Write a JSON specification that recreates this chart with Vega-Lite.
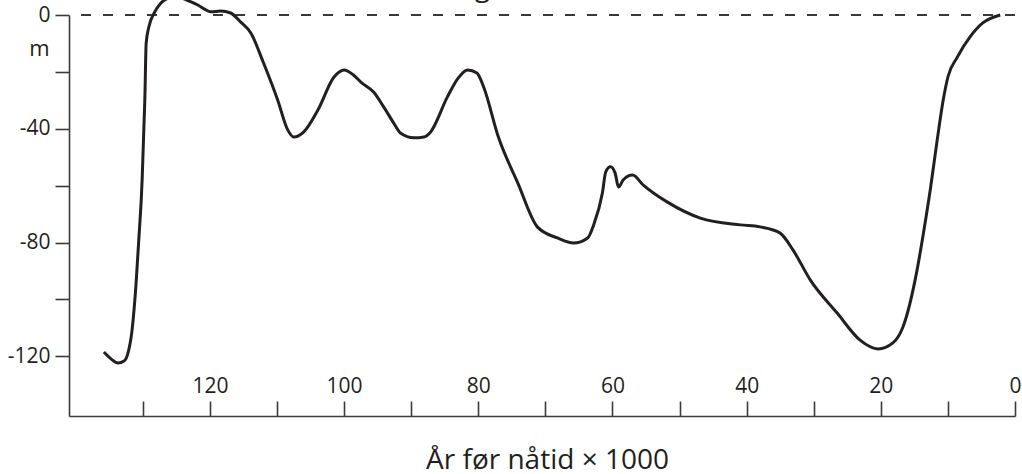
{
  "$schema": "https://vega.github.io/schema/vega-lite/v6.json",
  "width": 946,
  "height": 401,
  "autosize": "none",
  "padding": {"left": 69, "top": 15, "right": 7, "bottom": 58},
  "background": "white",
  "title": {
    "text": "Havnivåendring",
    "anchor": "end",
    "frame": "group",
    "orient": "top",
    "baseline": "alphabetic",
    "offset": 4,
    "dx": -525,
    "dy": 38,
    "font": "Open Sans",
    "fontSize": 28,
    "fontWeight": "normal",
    "color": "#231f20"
  },
  "config": {
    "view": {"stroke": null},
    "axis": {
      "grid": false,
      "domainColor": "#3a3a3a",
      "domainWidth": 1.6,
      "tickColor": "#3a3a3a",
      "tickWidth": 1.6,
      "labelColor": "#231f20",
      "labelFont": "Open Sans",
      "labelFontSize": 21,
      "titleFont": "Open Sans",
      "titleColor": "#231f20",
      "titleFontWeight": "normal",
      "labelOverlap": false,
      "labelBound": false,
      "labelFlush": false
    }
  },
  "data": {
    "values": [
      {"kyr": 135.8, "m": -118.5},
      {"kyr": 134.7, "m": -121.0},
      {"kyr": 133.7, "m": -122.4},
      {"kyr": 132.8, "m": -121.7},
      {"kyr": 132.2, "m": -118.8},
      {"kyr": 131.6, "m": -110.8},
      {"kyr": 131.0, "m": -94.3},
      {"kyr": 130.6, "m": -79.1},
      {"kyr": 130.1, "m": -58.0},
      {"kyr": 129.95, "m": -47.5},
      {"kyr": 129.8, "m": -36.9},
      {"kyr": 129.7, "m": -29.9},
      {"kyr": 129.5, "m": -10.0},
      {"kyr": 129.1, "m": -4.2},
      {"kyr": 128.3, "m": 0.7},
      {"kyr": 127.3, "m": 4.2},
      {"kyr": 126.2, "m": 6.0},
      {"kyr": 125.2, "m": 6.7},
      {"kyr": 124.2, "m": 6.0},
      {"kyr": 123.1, "m": 4.9},
      {"kyr": 121.8, "m": 3.5},
      {"kyr": 120.6, "m": 1.8},
      {"kyr": 119.8, "m": 1.1},
      {"kyr": 118.4, "m": 1.4},
      {"kyr": 116.9, "m": 0.7},
      {"kyr": 115.4, "m": -2.5},
      {"kyr": 113.9, "m": -6.3},
      {"kyr": 112.0, "m": -16.9},
      {"kyr": 109.9, "m": -29.9},
      {"kyr": 108.4, "m": -40.4},
      {"kyr": 107.5, "m": -42.9},
      {"kyr": 106.0, "m": -41.1},
      {"kyr": 103.9, "m": -33.4},
      {"kyr": 101.5, "m": -21.8},
      {"kyr": 100.0, "m": -19.3},
      {"kyr": 98.6, "m": -21.1},
      {"kyr": 97.5, "m": -23.6},
      {"kyr": 95.6, "m": -27.1},
      {"kyr": 94.1, "m": -32.3},
      {"kyr": 92.6, "m": -38.0},
      {"kyr": 91.6, "m": -41.5},
      {"kyr": 89.6, "m": -43.2},
      {"kyr": 88.1, "m": -42.9},
      {"kyr": 87.1, "m": -41.1},
      {"kyr": 84.6, "m": -28.8},
      {"kyr": 83.0, "m": -22.2},
      {"kyr": 81.6, "m": -19.3},
      {"kyr": 80.2, "m": -20.4},
      {"kyr": 79.2, "m": -25.3},
      {"kyr": 77.0, "m": -42.9},
      {"kyr": 74.1, "m": -59.1},
      {"kyr": 71.2, "m": -74.5},
      {"kyr": 68.2, "m": -78.4},
      {"kyr": 65.8, "m": -80.2},
      {"kyr": 63.7, "m": -78.4},
      {"kyr": 62.8, "m": -73.8},
      {"kyr": 61.5, "m": -62.6},
      {"kyr": 61.0, "m": -55.2},
      {"kyr": 60.3, "m": -53.4},
      {"kyr": 59.6, "m": -55.6},
      {"kyr": 59.1, "m": -60.5},
      {"kyr": 58.4, "m": -58.0},
      {"kyr": 57.0, "m": -56.3},
      {"kyr": 55.4, "m": -59.8},
      {"kyr": 51.8, "m": -65.8},
      {"kyr": 46.9, "m": -71.4},
      {"kyr": 40.9, "m": -73.8},
      {"kyr": 38.0, "m": -74.5},
      {"kyr": 35.0, "m": -76.7},
      {"kyr": 33.1, "m": -82.6},
      {"kyr": 30.5, "m": -93.2},
      {"kyr": 26.5, "m": -104.8},
      {"kyr": 23.1, "m": -114.3},
      {"kyr": 20.4, "m": -117.4},
      {"kyr": 18.2, "m": -115.3},
      {"kyr": 16.7, "m": -109.7},
      {"kyr": 14.6, "m": -89.7},
      {"kyr": 13.6, "m": -76.0},
      {"kyr": 12.6, "m": -61.0},
      {"kyr": 11.6, "m": -44.0},
      {"kyr": 10.7, "m": -29.9},
      {"kyr": 10.0, "m": -21.8},
      {"kyr": 8.6, "m": -14.8},
      {"kyr": 6.7, "m": -7.7},
      {"kyr": 4.8, "m": -2.8},
      {"kyr": 2.2, "m": 0}
    ]
  },
  "layer": [
    {
      "mark": {"type": "rule", "color": "#3a3a3a", "strokeWidth": 2, "strokeDash": [10, 12]},
      "encoding": {"y": {"datum": 0, "type": "quantitative", "scale": {"domain": [-141, 0], "nice": false, "zero": false}}}
    },
    {
      "mark": {"type": "line", "color": "#231f20", "strokeWidth": 3, "interpolate": "monotone"},
      "encoding": {
        "x": {
          "field": "kyr",
          "type": "quantitative",
          "scale": {"domain": [141, 0], "nice": false, "zero": false},
          "axis": {
            "orient": "bottom",
            "values": [0, 10, 20, 30, 40, 50, 60, 70, 80, 90, 100, 110, 120, 130],
            "labelExpr": "datum.value % 20 === 0 ? '' + datum.value : ''",
            "tickSize": -15,
            "labelPadding": -9,
            "labelBaseline": "alphabetic",
            "title": "År før nåtid × 1000",
            "titleFontSize": 28,
            "titleX": 478,
            "titleY": 52,
            "titleAlign": "center",
            "titleBaseline": "alphabetic"
          }
        },
        "y": {
          "field": "m",
          "type": "quantitative",
          "scale": {"domain": [-141, 0], "nice": false, "zero": false},
          "axis": {
            "values": [0, -20, -40, -60, -80, -100, -120],
            "labelExpr": "datum.value % 40 === 0 ? '' + datum.value : ''",
            "tickSize": 14,
            "labelPadding": 5,
            "title": "m",
            "titleAngle": 0,
            "titleFontSize": 22,
            "titleX": -30,
            "titleY": 40,
            "titleAlign": "center",
            "titleBaseline": "alphabetic"
          }
        }
      }
    }
  ]
}
